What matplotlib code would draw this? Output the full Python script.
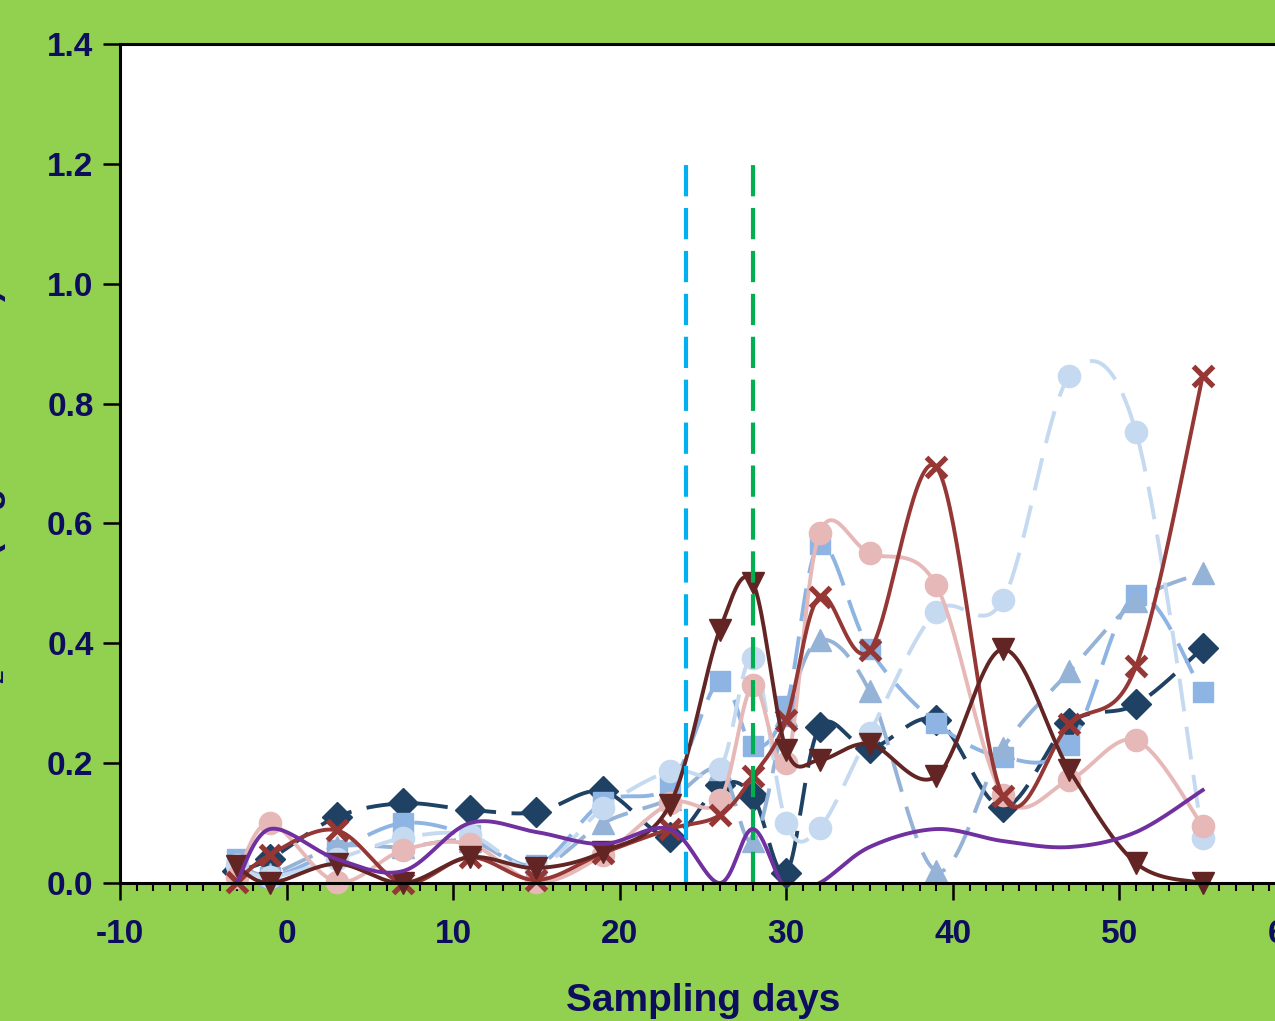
import numpy as np
import matplotlib.pyplot as plt

plt.rcParams['axes.unicode_minus'] = False

days = [-3, -1, 3, 7, 11, 15, 19, 23, 26, 28, 30, 32, 35, 39, 43, 47, 51, 55]

navy_diamond = [0.02, 0.04, 0.11, 0.133, 0.122, 0.118, 0.153, 0.077, 0.163, 0.145, 0.017,
                0.26, 0.225, 0.272, 0.127, 0.267, 0.298, 0.392]
blue_square = [0.04, 0.01, 0.055, 0.1, 0.08, 0.03, 0.135, 0.163, 0.337, 0.228, 0.295,
               0.565, 0.39, 0.267, 0.21, 0.23, 0.48, 0.318]
steel_triangle = [0.03, 0.015, 0.06, 0.06, 0.07, 0.025, 0.1, 0.14, 0.19, 0.07, 0.28,
                  0.405, 0.32, 0.02, 0.225, 0.353, 0.47, 0.518]
pale_circle = [0.03, 0.01, 0.04, 0.075, 0.08, 0.025, 0.125, 0.187, 0.19, 0.375, 0.1,
               0.092, 0.25, 0.453, 0.472, 0.846, 0.752, 0.075]
pink_circle = [0.01, 0.1, 0.002, 0.055, 0.065, 0.002, 0.047, 0.133, 0.138, 0.33, 0.2,
               0.584, 0.55, 0.497, 0.147, 0.172, 0.238, 0.095]
red_x = [0.002, 0.047, 0.088, 0.0, 0.043, 0.005, 0.05, 0.09, 0.113, 0.178, 0.272,
         0.478, 0.388, 0.694, 0.145, 0.265, 0.362, 0.846]
maroon_tri = [0.028, 0.0, 0.032, 0.0, 0.043, 0.025, 0.052, 0.13, 0.422, 0.5, 0.222,
              0.205, 0.232, 0.178, 0.39, 0.188, 0.033, 0.0]
purple_line = [0.0, 0.09, 0.04, 0.02, 0.1, 0.085, 0.065, 0.09, 0.0, 0.09, -0.01,
               0.0, 0.06, 0.09, 0.07, 0.06, 0.085, 0.155]

event_days = [24, 28]


def smooth(x, y, n=40):
    # excel-like smoothed line (catmull-rom bezier)
    x = np.asarray(x, float)
    y = np.asarray(y, float)
    px = np.concatenate([[x[0]], x, [x[-1]]])
    py = np.concatenate([[y[0]], y, [y[-1]]])
    xs, ys = [], []
    t = np.linspace(0, 1, n)
    for i in range(1, len(px) - 2):
        p0 = np.array([px[i - 1], py[i - 1]])
        p1 = np.array([px[i], py[i]])
        p2 = np.array([px[i + 1], py[i + 1]])
        p3 = np.array([px[i + 2], py[i + 2]])
        b1 = p1 + (p2 - p0) / 6
        b2 = p2 - (p3 - p1) / 6
        pts = ((1 - t) ** 3)[:, None] * p1 + (3 * (1 - t) ** 2 * t)[:, None] * b1 \
            + (3 * (1 - t) * t ** 2)[:, None] * b2 + (t ** 3)[:, None] * p2
        xs.extend(pts[:, 0])
        ys.extend(pts[:, 1])
    return xs, ys


text_col = '#0E0E5E'
fig = plt.figure(figsize=(12.75, 10.21), dpi=100, facecolor='#92D050')
ax = fig.add_axes([120 / 1275, 138 / 1021, 1166 / 1275, 839 / 1021])
ax.set_facecolor('white')

series = [
    (navy_diamond, '#1F4163', 'D', 15, '--'),
    (blue_square, '#8DB4E2', 's', 14, '--'),
    (steel_triangle, '#95B3D7', '^', 16, '--'),
    (pale_circle, '#C5D9F1', 'o', 16, '--'),
    (pink_circle, '#E6B9B8', 'o', 16, '-'),
    (red_x, '#953735', 'x', 14, '-'),
    (maroon_tri, '#632523', 'v', 16, '-'),
]

for vals, col, mk, ms, ls in series:
    sx, sy = smooth(days, vals)
    line, = ax.plot(sx, sy, color=col, lw=2.8, linestyle=ls)
    if ls == '--':
        line.set_dashes((8.5, 4))
    ax.plot(days, vals, linestyle='none', marker=mk, markersize=ms, color=col,
            markeredgewidth=3.8 if mk == 'x' else 1, clip_on=False)

ax.plot([event_days[0]] * 2, [0, 1.2], color='#00B0F0', lw=3, dashes=(7.5, 2.8))
ax.plot([event_days[1]] * 2, [0, 1.2], color='#00B050', lw=3, dashes=(7.5, 2.8))

px_, py_ = smooth(days, purple_line)
ax.plot(px_, py_, color='#7030A0', lw=2.8)

ax.set_xlim(-10, 60)
ax.set_ylim(0, 1.4)
ax.set_xticks(range(-10, 61, 10))
ax.set_xticks(range(-10, 61, 1), minor=True)
ax.set_yticks(np.arange(0, 1.41, 0.2))
ax.set_yticklabels(['%.1f' % v for v in np.arange(0, 1.41, 0.2)])

for s in ax.spines.values():
    s.set_linewidth(2.2)
    s.set_color('black')

ax.tick_params(axis='both', which='major', direction='out', length=12, width=1.8,
               labelsize=24, labelcolor=text_col, pad=7)
ax.tick_params(axis='x', which='minor', direction='out', length=6, width=1.5)
ax.tick_params(axis='x', which='major', pad=14)
for lab in ax.get_xticklabels() + ax.get_yticklabels():
    lab.set_fontweight('bold')
    lab.set_family('Liberation Sans')

ax.set_xlabel('Sampling days', fontsize=28, fontweight='bold', color=text_col,
              family='Liberation Sans', labelpad=24)
fig.text(9 / 1275, 0.51, 'N$_2$O flux (mg N m$^{-2}$ d$^{-1}$)', rotation=90,
         ha='right', va='center', fontsize=26, fontweight='bold', color=text_col,
         family='Liberation Sans')

fig.savefig('out.png', dpi=100, facecolor=fig.get_facecolor())
